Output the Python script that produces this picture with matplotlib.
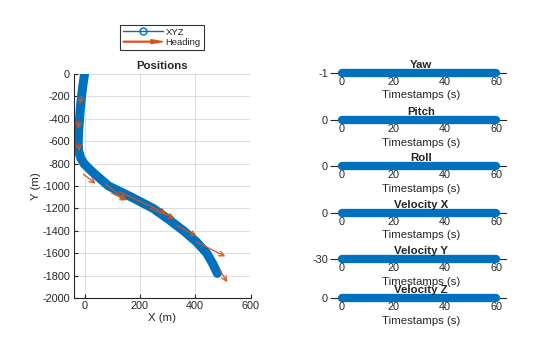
import matplotlib
matplotlib.use('Agg')
import matplotlib.pyplot as plt
import matplotlib.patches as mpatches
from matplotlib.lines import Line2D
from matplotlib.legend_handler import HandlerPatch

# Trajectory (m)
path_x = [0, -6, -11, -15, -18, -21, -23, -22, -14, -2, 18, 40, 87, 170, 248, 305, 358, 405, 442, 465, 480]
path_y = [0, -100, -200, -300, -400, -500, -600, -680, -750, -800, -850, -900, -1000, -1100, -1200,
          -1300, -1400, -1500, -1600, -1700, -1780]

# Heading arrows: tail point and components
arrow_x = [-10, -20, -22, -4, 73, 97, 127, 236, 333, 406, 491]
arrow_y = [-200, -420, -620, -895, -979, -1062, -1053, -1200, -1352, -1501, -1755]
arrow_u = [-8, -3, 3, 44, 79, 55, 170, 91, 73, 103, 24]
arrow_v = [-70, -70, -70, -84, -149, -66, -194, -89, -98, -128, -104]

# Right side panels
time_s = [0, 10, 20, 30, 40, 50, 60]
panel_names = ['Yaw', 'Pitch', 'Roll', 'Velocity X', 'Velocity Y', 'Velocity Z']
yaw = [-1, -1, -1, -1, -1, -1, -1]
pitch = [0, 0, 0, 0, 0, 0, 0]
roll = [0, 0, 0, 0, 0, 0, 0]
vel_x = [0, 0, 0, 0, 0, 0, 0]
vel_y = [-30, -30, -30, -30, -30, -30, -30]
vel_z = [0, 0, 0, 0, 0, 0, 0]
panel_values = [yaw, pitch, roll, vel_x, vel_y, vel_z]

plt.rcParams['font.family'] = ['Liberation Sans', 'DejaVu Sans']
plt.rcParams['axes.unicode_minus'] = False
# dark gray text like the original
plt.rcParams['text.color'] = '#262626'
plt.rcParams['axes.labelcolor'] = '#262626'
plt.rcParams['xtick.color'] = '#262626'
plt.rcParams['ytick.color'] = '#262626'
plt.rcParams['axes.edgecolor'] = '#262626'

blue = '#0072BD'
orange = '#D95319'
W, H = 560, 337

fig = plt.figure(figsize=(5.6, 3.37), dpi=100)

# Left plot - positions
ax = fig.add_axes([73.5 / W, 1 - 298 / H, 177 / W, 224 / H])
ax.plot(path_x, path_y, color=blue, lw=6.5, solid_capstyle='round', solid_joinstyle='round', zorder=2)
for x, y, u, v in zip(arrow_x, arrow_y, arrow_u, arrow_v):
    ax.annotate('', xy=(x + u, y + v), xytext=(x, y),
                arrowprops=dict(arrowstyle='->', color=orange, lw=0.9, shrinkA=0, shrinkB=0,
                                mutation_scale=9), zorder=3)
ax.set_xlim(-40, 600)
ax.set_ylim(-2000, 0)
ax.set_xticks([0, 200, 400, 600])
ax.set_yticks(range(-2000, 1, 200))
ax.grid(True, color='#dddddd', lw=0.7)
ax.set_axisbelow(True)
for s in ['top', 'right']:
    ax.spines[s].set_visible(False)
ax.tick_params(direction='in', length=3, labelsize=7.8, pad=2.5)
ax.set_title('Positions', fontsize=8.2, fontweight='bold', pad=3.6)
ax.set_xlabel('X (m)', fontsize=8.2, labelpad=1)
ax.set_ylabel('Y (m)', fontsize=8.2, labelpad=1)


# Legend with an arrow handle for heading
def make_arrow(legend, orig_handle, xdescent, ydescent, width, height, fontsize):
    return mpatches.FancyArrow(0, height / 2, width, 0, length_includes_head=True,
                               head_width=height * 0.6, head_length=width * 0.3, width=height * 0.12)


xyz_handle = Line2D([], [], color=blue, lw=1, marker='o', markersize=5, mfc='none', mew=1)
arrow_handle = mpatches.Patch(color=orange)
fig.legend([xyz_handle, arrow_handle], ['XYZ', 'Heading'], loc='upper center',
           bbox_to_anchor=(162 / W, 1 - 20 / H), fontsize=6.8, frameon=True, fancybox=False,
           edgecolor='black', borderpad=0.3, labelspacing=0.15, handlelength=4.2,
           handletextpad=0.3, handler_map={arrow_handle: HandlerPatch(patch_func=make_arrow)})
fig.legends[0].get_frame().set_linewidth(0.8)

# Right plots - flat panels
line_y = [72.7, 120, 166, 212.7, 259, 298.3]
for name, vals, py in zip(panel_names, panel_values, line_y):
    a = fig.add_axes([336 / W, 1 - py / H, 170 / W, 0.0001])
    a.plot(time_s, vals, color=blue, lw=6, solid_capstyle='round', clip_on=False, zorder=3)
    a.set_xlim(-2.13, 63.7)
    a.set_ylim(vals[0], vals[0] + 1)
    a.set_xticks([0, 20, 40, 60])
    a.set_yticks([vals[0]])
    for s in ['top', 'right']:
        a.spines[s].set_visible(False)
    a.tick_params(axis='x', length=0, pad=3, labelsize=7.8)
    a.tick_params(axis='y', direction='out', length=4.3, pad=1.5, labelsize=7.8)
    a.set_title(name, fontsize=8.2, fontweight='bold', pad=3.5)
    a.set_xlabel('Timestamps (s)', fontsize=8.2, labelpad=2.5)

fig.savefig('out.png', dpi=100)
